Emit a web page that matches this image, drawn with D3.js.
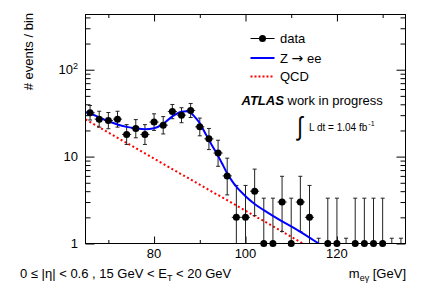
<!DOCTYPE html>
<html><head><meta charset="utf-8">
<script src="https://cdn.jsdelivr.net/npm/d3@7/dist/d3.min.js"></script>
<style>
body{margin:0;background:#fff}
svg{display:block}
text{font-family:"Liberation Sans",Arial,Helvetica,sans-serif;fill:#000}
</style>
</head><body>
<svg id="c" width="427" height="290"></svg>
<script>
// ---- data ----
const binCenters = [66,68,70,72,74,76,78,80,82,84,86,88,90,92,94,96,98,100,102,104,106,108,110,112,114,116,118,120,122,124,126,128,130,132,134];
const counts     = [32,27,26,27,18,21,18,25,23,33,30,34,22,16,11, 6, 2,  2,  4,  1,  1,  3,  1,  3,  2,  0,  1,  1,  0,  1,  1,  1,  1,  0,  0];
const binWidth = 2;

const zeeX = [65,66,68,70,72,74,76,78,80,82,84,86,87,88,89,90,91,92,93,94,95,96,97,98,100,102,104,106,108,110,112,114,116];
const zeeY = [32.5,31.3,28.3,25.5,23.4,22,21.1,20.6,21.2,23.8,29,32.8,33.2,31.8,28.3,24.2,19.5,15.5,12.6,10.2,8.1,6.4,5.3,4.5,3.5,2.85,2.42,2.08,1.8,1.57,1.36,1.17,1.0];

const qcdX = [65,75,85,95,105,113];
const qcdY = [26.8,13.4,6.7,3.37,1.69,0.97];

const xMajor = [80,100,120];
const xMinor = [70,90,110,130];
const yMajor = [1,10,100];
const yMinor = [2,3,4,5,6,7,8,9,20,30,40,50,60,70,80,90,200,300,400];
const zeroCap = 1.15;

// ---- layout ----
const L = 85.5, R = 405.5, T = 14.5, B = 243.5;
const svg = d3.select("#c");
const x = d3.scaleLinear().domain([65,135]).range([L,R]);
const y = d3.scaleLog().domain([1,432]).range([B,T]);

svg.append("defs").append("clipPath").attr("id","clip")
  .append("rect").attr("x",L).attr("y",T).attr("width",R-L).attr("height",B-T);

// ticks
function ax(gen, tx, ty){ const g = svg.append("g").attr("transform",`translate(${tx},${ty})`).call(gen); g.select(".domain").remove(); g.selectAll("line").attr("stroke","#000"); return g; }
ax(d3.axisLeft(y).tickValues(yMajor).tickSize(-9).tickFormat(""), L, 0);
ax(d3.axisLeft(y).tickValues(yMinor).tickSize(-5).tickFormat(""), L, 0);
ax(d3.axisRight(y).tickValues(yMajor).tickSize(-9).tickFormat(""), R, 0);
ax(d3.axisRight(y).tickValues(yMinor).tickSize(-5).tickFormat(""), R, 0);
ax(d3.axisBottom(x).tickValues(xMajor).tickSize(-7).tickFormat(""), 0, B);
ax(d3.axisBottom(x).tickValues(xMinor).tickSize(-3.5).tickFormat(""), 0, B);
ax(d3.axisTop(x).tickValues(xMajor).tickSize(-7).tickFormat(""), 0, T);
ax(d3.axisTop(x).tickValues(xMinor).tickSize(-3.5).tickFormat(""), 0, T);

// tick labels
svg.append("g").selectAll("text").data(xMajor).join("text")
  .attr("x",d=>x(d)).attr("y",B+14).attr("text-anchor","middle").attr("font-size",13).text(d=>d);
const yl = svg.append("g");
yMajor.forEach(v=>{
  const t = yl.append("text").attr("x",78).attr("y",y(v)+4.5).attr("text-anchor","end").attr("font-size",13);
  if (v >= 100) { t.append("tspan").text("10"); t.append("tspan").attr("dy",-5).attr("font-size",9).text(Math.round(Math.log10(v))); }
  else t.text(v);
});

// curves
const plot = svg.append("g").attr("clip-path","url(#clip)");
plot.append("path").datum(qcdX.map((d,i)=>[d,qcdY[i]]))
  .attr("d", d3.line().x(d=>x(d[0])).y(d=>y(d[1])))
  .attr("fill","none").attr("stroke","#ff0000").attr("stroke-width",2).attr("stroke-dasharray","2,2.5");

// data error bars
const pts = binCenters.map((c,i)=>({c, n:counts[i]}));
function upErr(n){ return n + 1 + Math.sqrt(n + 0.75); }
function loErr(n){ return n<=0?0: n*Math.pow(1 - 1/(9*n) - 1/(3*Math.sqrt(n)),3); }
const eg = plot.append("g").attr("stroke","#222").attr("stroke-width",1);
pts.forEach(p=>{
  const cx = x(p.c);
  if (p.n > 0) {
    const lo = loErr(p.n), hi = upErr(p.n);
    const yLo = lo > 1 ? y(lo) : B + 5;
    eg.append("line").attr("x1",cx).attr("x2",cx).attr("y1",y(hi)).attr("y2",yLo);
    eg.append("line").attr("x1",cx-2).attr("x2",cx+2).attr("y1",y(hi)).attr("y2",y(hi));
    if (lo > 1) eg.append("line").attr("x1",cx-2).attr("x2",cx+2).attr("y1",yLo).attr("y2",yLo);
    eg.append("line").attr("x1",x(p.c-binWidth/2)).attr("x2",x(p.c+binWidth/2)).attr("y1",y(p.n)).attr("y2",y(p.n));
  } else {
    eg.append("line").attr("x1",cx).attr("x2",cx).attr("y1",y(zeroCap)).attr("y2",B);
    eg.append("line").attr("x1",cx-2).attr("x2",cx+2).attr("y1",y(zeroCap)).attr("y2",y(zeroCap));
  }
});

plot.append("path").datum(zeeX.map((d,i)=>[d,zeeY[i]]))
  .attr("d", d3.line().x(d=>x(d[0])).y(d=>y(d[1])).curve(d3.curveMonotoneX))
  .attr("fill","none").attr("stroke","#0000ff").attr("stroke-width",2);

// markers (not clipped)
svg.append("g").selectAll("circle").data(pts.filter(p=>p.n>0)).join("circle")
  .attr("cx",p=>x(p.c)).attr("cy",p=>y(p.n)).attr("r",3.5).attr("fill","#000");

// frame
svg.append("rect").attr("x",L).attr("y",T).attr("width",R-L).attr("height",B-T)
  .attr("fill","none").attr("stroke","#000").attr("stroke-width",1);

// legend
const lx0 = 250.5, lx1 = 274.5, tx = 280;
const lg = svg.append("g");
lg.append("line").attr("x1",lx0).attr("x2",lx1).attr("y1",38.5).attr("y2",38.5).attr("stroke","#000").attr("stroke-width",1);
lg.append("circle").attr("cx",(lx0+lx1)/2).attr("cy",38.5).attr("r",3.5).attr("fill","#000");
lg.append("text").attr("x",tx).attr("y",43).attr("font-size",13).text("data");
lg.append("line").attr("x1",lx0).attr("x2",lx1).attr("y1",58).attr("y2",58).attr("stroke","#0000ff").attr("stroke-width",2);
const zt = lg.append("text").attr("x",tx).attr("y",62.5).attr("font-size",13);
zt.append("tspan").text("Z ");
zt.append("tspan").attr("font-family","DejaVu Sans").attr("font-size",14).text("\u2192");
zt.append("tspan").text(" ee");
lg.append("line").attr("x1",lx0).attr("x2",lx1).attr("y1",76.5).attr("y2",76.5).attr("stroke","#ff0000").attr("stroke-width",2).attr("stroke-dasharray","2,2");
lg.append("text").attr("x",tx).attr("y",81).attr("font-size",13).text("QCD");

const at = svg.append("text").attr("x",241.5).attr("y",105).attr("font-size",13);
at.append("tspan").attr("font-weight","bold").attr("font-style","italic").text("ATLAS");
at.append("tspan").text(" work in progress");

svg.append("text").attr("x",297).attr("y",135).attr("font-size",26).attr("font-family","DejaVu Sans").attr("transform","translate(297,135) scale(0.8,1) translate(-297,-135)").text("\u222B");
const lum = svg.append("text").attr("x",309).attr("y",130.5).attr("font-size",10);
lum.append("tspan").text("L dt = 1.04 fb");
lum.append("tspan").attr("dx",1).attr("dy",-4.5).attr("font-size",7).text("-1");

// axis titles
svg.append("text").attr("transform","translate(33,13) rotate(-90)").attr("text-anchor","end").attr("font-size",13).text("# events / bin");
const xt = svg.append("text").attr("x",406).attr("y",277.5).attr("text-anchor","end").attr("font-size",13);
xt.append("tspan").text("m");
xt.append("tspan").attr("dy",3).attr("font-size",9).text("e\u03B3");
xt.append("tspan").attr("dy",-3).text(" [GeV]");

const bt = svg.append("text").attr("x",20).attr("y",277.5).attr("font-size",13);
bt.append("tspan").text("0 \u2264 |\u03B7| < 0.6 , 15 GeV < E");
bt.append("tspan").attr("dy",3.5).attr("font-size",9).text("T");
bt.append("tspan").attr("dy",-3.5).text(" < 20 GeV");
</script>
</body></html>
